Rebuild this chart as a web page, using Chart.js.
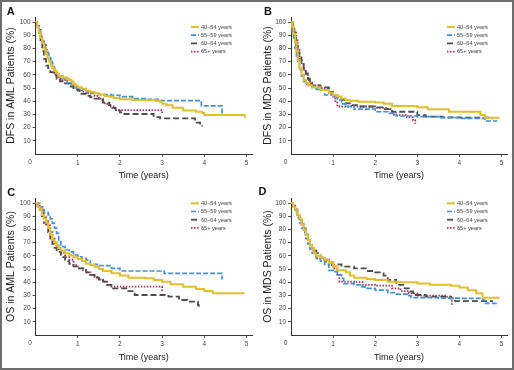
<!DOCTYPE html>
<html>
<head>
<meta charset="utf-8">
<script src="https://cdn.jsdelivr.net/npm/chart.js@4.4.0/dist/chart.umd.min.js"></script>
<style>
  body { margin: 0; background: #fff; }
  #frame { position: absolute; left: 0; top: 0; width: 514px; height: 370px; border: 2px solid #6e6e6e; box-sizing: border-box; }
  canvas { position: absolute; }
</style>
</head>
<body>
<div id="frame"></div>
<canvas id="chartA" width="257" height="185" style="left:0;top:0"></canvas>
<canvas id="chartB" width="257" height="185" style="left:257px;top:0"></canvas>
<canvas id="chartC" width="257" height="185" style="left:0;top:185px"></canvas>
<canvas id="chartD" width="257" height="185" style="left:257px;top:185px"></canvas>
<script>
var groups = ['40–54 years', '55–59 years', '60–64 years', '65+ years'];
var xTicks = [1, 2, 3, 4, 5];
var yTicks = [10, 20, 30, 40, 50, 60, 70, 80, 90, 100];

// [time in years, % surviving] - KM steps
// A: DFS in AML
var dfsAml40 = [[0,100],[0.04,96],[0.08,92],[0.12,88],[0.16,84],[0.2,80],[0.24,76],[0.28,73],[0.32,70],[0.36,67],[0.4,65],[0.45,63],[0.5,61],[0.55,59],[0.65,58],[0.75,57],[0.8,56],[0.85,55],[0.9,53],[0.95,52],[1.0,50.5],[1.1,49.5],[1.2,48],[1.3,47],[1.4,46],[1.5,45],[1.65,44],[1.75,43.4],[1.85,42.5],[2.0,41.4],[2.3,41],[2.6,40.8],[2.85,40.4],[2.95,39.5],[3.0,38],[3.1,37],[3.25,35],[3.5,33],[3.8,32],[3.95,31],[4.0,29.5],[4.96,27]];
var dfsAml55 = [[0,100],[0.04,97],[0.08,93],[0.12,89],[0.16,86],[0.2,83],[0.24,79],[0.28,76],[0.32,73],[0.36,70],[0.4,67],[0.45,64],[0.5,61],[0.55,59],[0.65,57],[0.75,54],[0.85,52],[0.95,50],[1.05,49],[1.2,47],[1.35,46],[1.5,45],[1.8,44.5],[2.0,43.5],[2.3,42],[2.6,41.5],[2.9,40.5],[3.93,36.5],[4.42,29.5]];
var dfsAml60 = [[0,100],[0.04,95],[0.08,90],[0.12,85],[0.16,78],[0.2,72],[0.25,67],[0.3,65],[0.35,62],[0.42,60],[0.5,57],[0.58,55],[0.65,53.5],[0.8,51],[0.9,49],[1.0,48],[1.05,45.5],[1.2,44],[1.3,43],[1.4,42],[1.5,41],[1.6,39],[1.75,37],[1.82,35],[1.9,33],[2.0,31.5],[2.08,30.3],[2.8,28],[2.95,27],[3.78,23.7],[3.9,21.2],[3.96,21.2]];
var dfsAml65 = [[0,100],[0.04,97],[0.08,94],[0.12,90],[0.16,86],[0.2,82],[0.25,77],[0.3,73],[0.35,69],[0.4,65],[0.45,61],[0.5,58],[0.6,56],[0.75,53.5],[0.85,51],[1.0,48.5],[1.1,47],[1.25,46],[1.4,44],[1.5,42],[1.6,38.4],[1.7,37],[1.75,36],[1.85,34.5],[1.9,33.3],[3.0,30]];

// B: DFS in MDS
var dfsMds40 = [[0,100],[0.03,96],[0.06,91],[0.1,85],[0.13,78],[0.16,71],[0.2,65],[0.25,60],[0.3,56],[0.35,54],[0.4,52],[0.5,50.5],[0.7,48.5],[0.9,46.5],[1.0,44.7],[1.1,43.5],[1.2,42],[1.3,41],[1.4,40.4],[1.6,39.6],[2.0,39],[2.2,38],[2.4,36.4],[3.0,35.4],[3.25,34],[3.75,32],[4.5,29.5],[4.6,27.5],[4.95,27.5]];
var dfsMds55 = [[0,100],[0.01,96],[0.03,92],[0.06,87],[0.1,80],[0.13,74],[0.16,69],[0.2,64],[0.25,59],[0.3,55],[0.35,53],[0.4,52],[0.5,50.5],[0.6,49],[0.75,48.5],[0.8,44.7],[1.0,43.4],[1.1,41],[1.2,38],[1.3,36],[1.5,34],[2.0,32],[2.3,30.8],[2.5,28.8],[3.0,28.3],[3.5,27.5],[4.0,27],[4.6,25],[4.9,25]];
var dfsMds60 = [[0,100],[0.04,94],[0.08,88],[0.12,82],[0.16,77],[0.2,74],[0.25,69],[0.3,65],[0.35,61],[0.4,57],[0.45,54],[0.5,52],[0.7,50.5],[0.9,47],[1.0,44.7],[1.1,43],[1.2,41],[1.3,38.4],[1.45,37],[1.6,36],[2.0,35.4],[2.2,34],[2.4,32],[3.0,29.5],[3.2,28.3],[3.6,27.8],[4.0,27.5],[4.7,27],[4.8,27]];
var dfsMds65 = [[0,100],[0.04,96],[0.08,92],[0.12,86],[0.16,79],[0.2,72],[0.25,68],[0.3,64],[0.35,60],[0.4,56],[0.45,53],[0.5,52],[0.7,50],[0.9,46],[1.0,43.4],[1.05,40],[1.1,36],[1.75,36],[2.0,35],[2.3,34],[2.4,31],[2.45,29.5],[2.75,27.8],[2.9,25.7],[2.95,23]];

// C: OS in AML
var osAml40 = [[0,100],[0.05,97],[0.1,95],[0.15,91],[0.2,88],[0.25,85],[0.3,81],[0.35,76],[0.4,72],[0.45,70],[0.5,68],[0.55,66],[0.6,64],[0.7,62],[0.8,60.5],[0.9,59],[1.0,57.6],[1.1,56],[1.2,54],[1.3,53],[1.4,51.8],[1.5,50],[1.6,48.5],[1.8,46.7],[2.0,45],[2.2,43.4],[2.6,43],[2.8,41.7],[3.0,40.4],[3.2,38.4],[3.5,36.6],[3.8,34.8],[4.0,33.3],[4.2,31.6],[4.95,31.6]];
var osAml55 = [[0,100],[0.1,97],[0.2,93],[0.3,91],[0.35,88],[0.4,84.6],[0.45,81],[0.5,77],[0.55,72],[0.6,67],[0.7,64.4],[0.8,63],[0.9,60.6],[1.0,59.3],[1.1,58],[1.2,56.8],[1.3,53.5],[1.5,52.5],[1.8,50.5],[2.0,48.5],[3.05,46.7],[4.42,42]];
var osAml60 = [[0,100],[0.05,97],[0.1,95],[0.15,90],[0.2,85],[0.25,82],[0.3,78],[0.35,73],[0.4,69],[0.45,66],[0.5,63],[0.6,59],[0.7,56],[0.8,54],[0.9,52],[1.0,50.5],[1.2,47.5],[1.3,45.5],[1.4,43.4],[1.5,42],[1.6,40.4],[1.7,38],[1.8,35.4],[2.2,33.3],[2.35,30.3],[3.15,29],[3.4,26.5],[3.6,25.3],[3.85,22.7],[3.87,20]];
var osAml65 = [[0,100],[0.05,98],[0.1,97],[0.15,94],[0.2,90],[0.25,87],[0.3,83],[0.35,78],[0.4,73],[0.45,70],[0.5,67],[0.55,64],[0.6,62],[0.7,59],[0.8,57],[0.9,53],[1.0,50.5],[1.1,49],[1.2,47.5],[1.3,45.5],[1.4,44],[1.5,42],[1.6,40.4],[1.7,38],[1.8,36.6],[3.0,33.3]];

// D: OS in MDS
var osMds40 = [[0,100],[0.05,97],[0.1,95],[0.15,91],[0.2,88],[0.25,84],[0.3,80],[0.35,76],[0.4,72],[0.45,68],[0.5,65],[0.55,62],[0.6,60],[0.7,58.5],[0.8,57],[0.9,54.5],[1.0,52],[1.1,49],[1.3,47.5],[1.4,45],[1.5,43.4],[1.8,42.4],[2.0,41.7],[2.3,40.4],[2.6,40],[3.0,39],[3.3,38],[3.8,37.4],[4.0,36],[4.2,34],[4.4,31.6],[4.55,28.3],[4.95,28.3]];
var osMds55 = [[0,100],[0.05,97],[0.1,93],[0.15,89],[0.2,85],[0.25,81],[0.3,78],[0.35,73],[0.4,69],[0.45,65],[0.5,62],[0.6,58],[0.7,56],[0.8,53.5],[0.9,49],[1.0,48],[1.1,45.5],[1.2,43],[1.25,39],[1.5,38],[1.65,36.5],[1.8,35.4],[2.0,34],[2.3,32],[2.5,31],[2.8,29.8],[2.85,28.3],[3.5,28],[4.0,27.8],[4.55,26.5],[4.6,24],[4.9,24]];
var osMds60 = [[0,100],[0.05,97],[0.1,95],[0.15,91],[0.2,88],[0.25,84],[0.3,80.8],[0.35,76],[0.4,72],[0.45,68],[0.5,65.7],[0.6,62],[0.7,58.6],[0.8,57],[0.9,55],[1.0,53.5],[1.2,51.8],[1.5,50.5],[1.8,48.5],[2.0,47.5],[2.2,45],[2.3,41.7],[2.5,38],[2.7,35.4],[2.8,33],[2.9,30.3],[3.2,29],[3.8,27.8],[3.9,25.7],[4.8,25.7]];
var osMds65 = [[0,100],[0.05,98],[0.1,96],[0.15,91],[0.2,87],[0.25,84],[0.3,80],[0.35,76],[0.4,72],[0.45,68],[0.5,64],[0.6,58],[0.8,55.5],[0.9,53],[1.0,50.5],[1.1,45.5],[1.15,40.4],[1.5,40],[1.7,38],[2.0,37.4],[2.4,35.4],[2.6,33.3],[2.8,31.6],[3.0,29.8],[3.7,29],[3.8,27.8],[3.82,23]];

var FONT = '"Liberation Sans", Arial, sans-serif';
Chart.defaults.font.family = FONT;

var lineStyles = [
  { color: '#e2c02a', dash: [], width: 2 },
  { color: '#3f93dc', dash: [5, 2], width: 1.7 },
  { color: '#4d4d4f', dash: [6, 3], width: 1.8 },
  { color: '#a8325a', dash: [1.5, 1.5], width: 1.8 }
];

// panel letter, origin "0" and the small legend
var panelDecor = {
  id: 'panelDecor',
  afterDraw: function (chart, args, o) {
    var ctx = chart.ctx, area = chart.chartArea;
    ctx.save();
    ctx.fillStyle = '#111';
    ctx.font = 'bold 11px ' + FONT;
    ctx.textAlign = 'center';
    ctx.textBaseline = 'middle';
    ctx.fillText(o.letter, o.letterX, o.letterY);

    ctx.fillStyle = '#444';
    ctx.font = '6.5px ' + FONT;
    ctx.fillText('0', area.left - 5.5, area.bottom + 8.7);

    chart.data.datasets.forEach(function (ds, i) {
      var y = o.legendY + i * 8.2;
      ctx.beginPath();
      ctx.setLineDash(ds.borderDash);
      ctx.lineWidth = ds.borderWidth;
      ctx.strokeStyle = ds.borderColor;
      ctx.moveTo(o.legendX, y);
      ctx.lineTo(o.legendX + 8, y);
      ctx.stroke();
      ctx.setLineDash([]);
      ctx.fillStyle = '#444';
      ctx.font = '5.6px ' + FONT;
      ctx.textAlign = 'left';
      ctx.fillText(ds.label, o.legendX + 10, y + 0.3);
    });
    ctx.restore();
  }
};

function makePanel(id, letter, yTitle, series, p) {
  var datasets = series.map(function (s, i) {
    return {
      label: groups[i],
      data: s.map(function (pt) { return { x: pt[0], y: pt[1] }; }),
      borderColor: lineStyles[i].color,
      borderDash: lineStyles[i].dash,
      borderWidth: lineStyles[i].width,
      stepped: 'before',
      pointRadius: 0,
      fill: false
    };
  });
  return new Chart(document.getElementById(id), {
    type: 'line',
    data: { datasets: datasets },
    plugins: [panelDecor],
    options: {
      responsive: false,
      animation: false,
      layout: { padding: { left: 0, top: p.top, right: p.right, bottom: 0 } },
      plugins: {
        legend: { display: false },
        tooltip: { enabled: false },
        panelDecor: { letter: letter, letterX: p.letterX, letterY: p.letterY, legendX: p.legendX, legendY: p.legendY }
      },
      scales: {
        x: {
          type: 'linear',
          min: 0,
          max: p.xMax,
          afterBuildTicks: function (s) { s.ticks = xTicks.map(function (v) { return { value: v }; }); },
          afterFit: function (s) { s.height = p.xAxisH; },
          grid: { display: true, drawOnChartArea: false, drawTicks: true, tickLength: 3, color: '#555' },
          border: { display: true, color: '#333', width: 1 },
          ticks: { font: { size: 6.5 }, color: '#444', padding: 2, maxRotation: 0, autoSkip: false },
          title: { display: true, text: 'Time (years)', font: { size: 9 }, color: '#222', padding: { top: 0, bottom: p.xTitlePad } }
        },
        y: {
          min: 0,
          max: 103.8,
          afterBuildTicks: function (s) { s.ticks = yTicks.map(function (v) { return { value: v }; }); },
          afterFit: function (s) { s.width = p.yAxisW; },
          grid: { display: true, drawOnChartArea: false, drawTicks: true, tickLength: 3, color: '#555' },
          border: { display: true, color: '#333', width: 1 },
          ticks: { font: { size: 6.5 }, color: '#444', padding: 2 },
          title: { display: true, text: yTitle, font: { size: 10.5 }, color: '#222', padding: { top: p.yTitlePad, bottom: 0 } }
        }
      }
    }
  });
}

makePanel('chartA', 'A', 'DFS in AML Patients (%)', [dfsAml40, dfsAml55, dfsAml60, dfsAml65],
  { top: 17, right: 5, xMax: 5.13, xAxisH: 31, yAxisW: 35.5, xTitlePad: 3.6, yTitlePad: 5.3, letterX: 10.8, letterY: 12.2, legendX: 191, legendY: 27 });
makePanel('chartB', 'B', 'DFS in MDS Patients (%)', [dfsMds40, dfsMds55, dfsMds60, dfsMds65],
  { top: 17, right: 7, xMax: 5.13, xAxisH: 31, yAxisW: 34, xTitlePad: 3.9, yTitlePad: 4.8, letterX: 11, letterY: 12.2, legendX: 190, legendY: 27 });
makePanel('chartC', 'C', 'OS in AML Patients (%)', [osAml40, osAml55, osAml60, osAml65],
  { top: 13, right: 5, xMax: 5.13, xAxisH: 35, yAxisW: 35.5, xTitlePad: 6.6, yTitlePad: 5.3, letterX: 11.2, letterY: 8, legendX: 191, legendY: 18.3 });
makePanel('chartD', 'D', 'OS in MDS Patients (%)', [osMds40, osMds55, osMds60, osMds65],
  { top: 13, right: 7, xMax: 5.13, xAxisH: 35, yAxisW: 34, xTitlePad: 6.6, yTitlePad: 4.8, letterX: 5.5, letterY: 7, legendX: 190, legendY: 18.3 });
</script>
</body>
</html>
